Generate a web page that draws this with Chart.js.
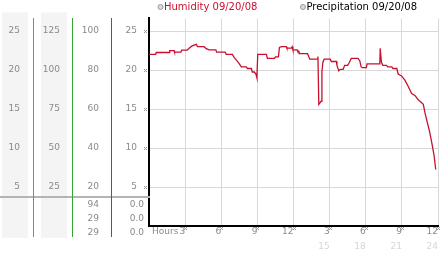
<!DOCTYPE html>
<html>
<head>
<meta charset="utf-8">
<script src="https://cdn.jsdelivr.net/npm/chart.js@4.4.0/dist/chart.umd.min.js"></script>
<style>
  html, body { margin: 0; padding: 0; background: #fff; }
</style>
</head>
<body>
<canvas id="chart" width="442" height="253"></canvas>
<script>
// humidity trace (hour of day, value on the 0-25 scale)
const hours = [
  0.0, 0.55, 0.6, 1.67, 1.72, 2.08, 2.12, 2.64, 2.72, 3.17, 3.33, 3.58, 3.94, 4.02, 4.58,
  4.75, 5.0, 5.55, 5.62, 6.33, 6.42, 6.92, 7.08, 7.25, 7.5, 7.67, 8.08, 8.17, 8.5, 8.58,
  8.75, 8.89, 8.96, 9.03, 9.75, 9.83, 10.42, 10.5, 10.75, 10.83, 11.0, 11.4, 11.45, 11.83, 11.89,
  11.95, 12.3, 12.35, 12.45, 12.5, 13.17, 13.35, 14.0, 14.03, 14.1, 14.3, 14.36, 14.44, 14.55,
  15.05, 15.14, 15.56, 15.61, 15.76, 15.88, 16.12, 16.25, 16.5, 16.61, 16.8, 17.36, 17.5, 17.62,
  17.72, 18.05, 18.11, 19.17, 19.2, 19.3, 19.42, 19.72, 19.83, 20.17, 20.25, 20.58, 20.69, 20.97,
  21.25, 21.53, 21.81, 22.08, 22.36, 22.64, 22.78, 22.92, 23.11, 23.28, 23.47, 23.67, 23.81
];
const humidity = [
  22.0, 22.0, 22.25, 22.25, 22.5, 22.5, 22.3, 22.3, 22.55, 22.55, 22.8, 23.1, 23.3, 23.0, 23.0,
  22.75, 22.6, 22.6, 22.3, 22.3, 22.0, 22.0, 21.6, 21.3, 20.8, 20.4, 20.4, 20.2, 20.2, 19.75,
  19.75, 19.45, 19.0, 22.0, 22.0, 21.5, 21.5, 21.7, 21.7, 22.9, 23.0, 23.0, 22.8, 22.8, 23.0,
  22.6, 22.6, 22.4, 22.4, 22.1, 22.1, 21.4, 21.4, 21.75, 15.6, 16.0, 19.75, 21.0, 21.4,
  21.4, 21.1, 21.1, 20.6, 19.9, 20.1, 20.1, 20.6, 20.6, 20.9, 21.5, 21.5, 21.2, 20.4,
  20.3, 20.3, 20.8, 20.8, 22.8, 21.0, 20.6, 20.6, 20.4, 20.4, 20.2, 20.2, 19.5, 19.25,
  18.7, 17.9, 17.0, 16.75, 16.2, 15.8, 15.6, 14.5, 13.3, 12.25, 10.8, 9.1, 7.25
];

const hourTicks = [3, 6, 9, 12, 15, 18, 21, 24];
const hourLabels = ['3', '6', '9', '12', '3', '6', '9', '12'];
const pmTicks = [15, 18, 21, 24];
const pmLabels = ['15', '18', '21', '24'];

const mainTicks = [5, 10, 15, 20, 25];
const scaleBTicks = [25, 50, 75, 100, 125];
const scaleCTicks = [20, 40, 60, 80, 100];

const readingsC = ['94', '29', '29'];
const readingsD = ['0.0', '0.0', '0.0'];

const seriesLabels = ['Humidity 09/20/08', 'Precipitation 09/20/08'];

const FONT = "'DejaVu Sans', Verdana, sans-serif";
const TICK_COLOR = '#8a8a8a';
const GRID_COLOR = '#d8d8d8';
const HUMID_COLOR = '#c8102e';
const BLUE = '#2ea3d6';
const GREEN = '#30a830';
const RED = '#cc2a2a';
const Y_MAX = 26.625;

Chart.defaults.font.family = FONT;

const setTicks = list => scale => { scale.ticks = list.map(v => ({ value: v })); };

function mark(ctx, x, y) {
  // the little dotted tick glyph
  ctx.fillStyle = '#9a9a9a';
  const px = [[0, 0], [2, 0], [1, 1], [0, 2], [2, 2]];
  px.forEach(([dx, dy]) => ctx.fillRect(Math.round(x) + dx, Math.round(y) + dy, 1, 1));
}

const decor = {
  id: 'decor',
  beforeDraw(chart) {
    const ctx = chart.ctx;
    const top = chart.chartArea.top;
    ctx.save();
    ctx.fillStyle = '#f4f4f4';
    ['yA', 'yB'].forEach(id => {
      const s = chart.scales[id];
      ctx.fillRect(s.right - 31, top - 6, 26, s.bottom - top + 18);
    });
    ctx.restore();
  },
  afterDraw(chart) {
    const ctx = chart.ctx;
    const area = chart.chartArea;
    const x = chart.scales.x;
    const y = chart.scales.y;
    ctx.save();

    // separator above the readings
    ctx.strokeStyle = '#b4b4b4';
    ctx.lineWidth = 2;
    ctx.beginPath();
    ctx.moveTo(0, area.bottom - 29);
    ctx.lineTo(y.right + 1, area.bottom - 29);
    ctx.stroke();

    // colored scale lines run down through the readings table
    [['yA', BLUE], ['yB', GREEN], ['yC', RED]].forEach(([id, col]) => {
      const s = chart.scales[id];
      ctx.strokeStyle = col;
      ctx.lineWidth = 1;
      ctx.beginPath();
      ctx.moveTo(s.right + 0.5, s.bottom - 30);
      ctx.lineTo(s.right + 0.5, s.bottom + 11);
      ctx.stroke();
    });

    // readings table
    ctx.font = '9px ' + FONT;
    ctx.fillStyle = TICK_COLOR;
    ctx.textAlign = 'right';
    ctx.textBaseline = 'middle';
    const sc = chart.scales.yC;
    readingsC.forEach((t, i) => ctx.fillText(t, sc.right - 12, area.bottom - 21.5 + i * 14));
    readingsD.forEach((t, i) => ctx.fillText(t, y.right - 5, area.bottom - 21.5 + i * 14));

    // "Hours" caption on the tick row
    ctx.textAlign = 'left';
    ctx.fillText('Hours', area.left + 3, area.bottom + 6);

    // tick glyphs
    hourTicks.forEach(v => mark(ctx, x.getPixelForValue(v) - 1, area.bottom + 1));
    mainTicks.forEach(v => mark(ctx, y.right - 5, y.getPixelForValue(v) - 1));

    // legend
    ctx.font = '10px ' + FONT;
    let lx = area.left + 9;
    chart.data.datasets.forEach(ds => {
      ctx.beginPath();
      ctx.arc(lx + 2.5, 7, 2.5, 0, Math.PI * 2);
      ctx.fillStyle = '#dcdcdc';
      ctx.fill();
      ctx.strokeStyle = '#999';
      ctx.lineWidth = 1;
      ctx.stroke();
      ctx.fillStyle = ds.legendColor;
      ctx.textBaseline = 'middle';
      ctx.fillText(ds.label, lx + 6, 7.5);
      lx += 6 + ctx.measureText(ds.label).width + 43;
    });
    ctx.restore();
  }
};

const tickFont = { family: FONT, size: 9 };

new Chart(document.getElementById('chart'), {
  type: 'line',
  data: {
    datasets: [{
      label: seriesLabels[0],
      legendColor: HUMID_COLOR,
      data: hours.map((h, i) => ({ x: h, y: humidity[i] })),
      borderColor: HUMID_COLOR,
      borderWidth: 1.3,
      pointRadius: 0,
      tension: 0,
      yAxisID: 'y'
    }, {
      label: seriesLabels[1],
      legendColor: '#000',
      data: [],
      borderColor: '#000',
      pointRadius: 0,
      yAxisID: 'y'
    }]
  },
  options: {
    responsive: false,
    animation: false,
    events: [],
    layout: { padding: { top: 13, right: 4, bottom: 0, left: 0 } },
    plugins: {
      legend: { display: false },
      tooltip: { enabled: false }
    },
    scales: {
      x: {
        type: 'linear',
        position: 'bottom',
        min: 0,
        max: 24,
        afterBuildTicks: setTicks(hourTicks),
        afterFit: s => { s.height = 13; },
        ticks: {
          callback: v => hourLabels[hourTicks.indexOf(v)],
          align: 'end',
          padding: 0.5,
          autoSkip: false,
          maxRotation: 0,
          color: TICK_COLOR,
          font: tickFont
        },
        grid: { color: GRID_COLOR, drawTicks: false },
        border: { color: '#000', width: 2 }
      },
      x2: {
        type: 'linear',
        position: 'bottom',
        min: 0,
        max: 24,
        afterBuildTicks: setTicks(pmTicks),
        afterFit: s => { s.height = 14; },
        ticks: {
          callback: v => pmLabels[pmTicks.indexOf(v)],
          align: 'end',
          padding: 2,
          autoSkip: false,
          maxRotation: 0,
          color: '#d6d6d6',
          font: tickFont
        },
        grid: { display: false, drawTicks: false },
        border: { display: false }
      },
      y: {
        position: 'left',
        weight: 0,
        min: 0,
        max: Y_MAX,
        afterBuildTicks: setTicks(mainTicks),
        afterFit: s => { s.width = 38; },
        ticks: { padding: 12, color: TICK_COLOR, font: tickFont },
        grid: { color: GRID_COLOR, drawTicks: false },
        border: { color: '#000', width: 2 }
      },
      yC: {
        position: 'left',
        weight: 1,
        min: 0,
        max: Y_MAX * 4,
        afterBuildTicks: setTicks(scaleCTicks),
        afterFit: s => { s.width = 39; },
        ticks: { padding: 12, color: TICK_COLOR, font: tickFont },
        grid: { display: false, drawTicks: false },
        border: { color: RED, width: 1 }
      },
      yB: {
        position: 'left',
        weight: 2,
        min: 0,
        max: Y_MAX * 5,
        afterBuildTicks: setTicks(scaleBTicks),
        afterFit: s => { s.width = 39; },
        ticks: { padding: 12, color: TICK_COLOR, font: tickFont },
        grid: { display: false, drawTicks: false },
        border: { color: GREEN, width: 1 }
      },
      yA: {
        position: 'left',
        weight: 3,
        min: 0,
        max: Y_MAX,
        afterBuildTicks: setTicks(mainTicks),
        afterFit: s => { s.width = 33; },
        ticks: { padding: 13, color: TICK_COLOR, font: tickFont },
        grid: { display: false, drawTicks: false },
        border: { color: BLUE, width: 1 }
      }
    }
  },
  plugins: [decor]
});
</script>
</body>
</html>
